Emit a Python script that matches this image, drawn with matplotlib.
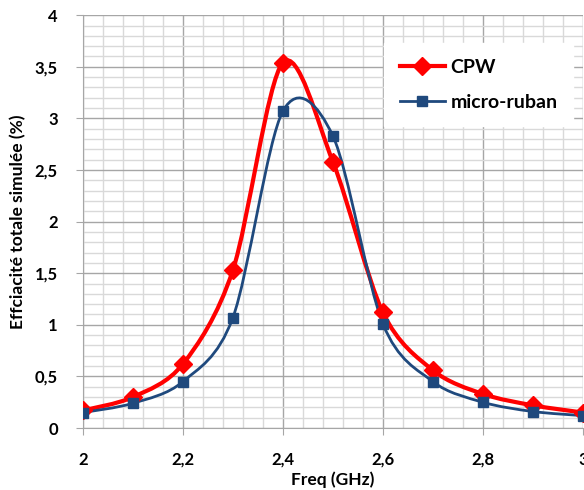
import numpy as np
import matplotlib.pyplot as plt
from matplotlib.path import Path
from matplotlib.patches import PathPatch
from matplotlib.lines import Line2D
from matplotlib.ticker import MultipleLocator, FuncFormatter

freq = [2.0, 2.1, 2.2, 2.3, 2.4, 2.5, 2.6, 2.7, 2.8, 2.9, 3.0]
cpw = [0.17, 0.30, 0.62, 1.53, 3.54, 2.58, 1.12, 0.56, 0.33, 0.22, 0.15]
micro_ruban = [0.15, 0.24, 0.45, 1.07, 3.07, 2.83, 1.01, 0.45, 0.25, 0.16, 0.12]

RED = "#FF0000"
BLUE = "#1F497D"

plt.rcParams['font.family'] = ['Lato', 'DejaVu Sans']
plt.rcParams['font.weight'] = 'bold'


def smooth_path(x, y):
    # Excel-style smoothed line: Bezier segments through the points
    p = np.column_stack([x, y])
    n = len(p)
    verts = [p[0]]
    codes = [Path.MOVETO]
    for i in range(n - 1):
        p0 = p[i - 1] if i > 0 else p[i]
        p3 = p[i + 2] if i + 2 < n else p[i + 1]
        c1 = p[i] + (p[i + 1] - p0) / 6.5
        c2 = p[i + 1] - (p3 - p[i]) / 6.5
        verts += [c1, c2, p[i + 1]]
        codes += [Path.CURVE4] * 3
    return Path(verts, codes)


fig = plt.figure(figsize=(5.84, 4.9), dpi=100)
ax = fig.add_axes([0.142, 0.1265, 0.856, 0.8425])

for ys, col, lw, mk, ms in [(cpw, RED, 3.0, 'D', 9.5), (micro_ruban, BLUE, 2.0, 's', 7.5)]:
    ax.add_patch(PathPatch(smooth_path(freq, ys), facecolor='none', edgecolor=col, lw=lw,
                           capstyle='round', joinstyle='round', zorder=3))
    ax.plot(freq, ys, linestyle='none', marker=mk, color=col, markersize=ms, zorder=4)

ax.set_xlim(2, 3)
ax.set_ylim(0, 4)
ax.xaxis.set_major_locator(MultipleLocator(0.2))
ax.xaxis.set_minor_locator(MultipleLocator(0.04))
ax.yaxis.set_major_locator(MultipleLocator(0.5))
ax.yaxis.set_minor_locator(MultipleLocator(0.1))
fmt = FuncFormatter(lambda v, pos: ('%g' % round(v, 2)).replace('.', ','))
ax.xaxis.set_major_formatter(fmt)
ax.yaxis.set_major_formatter(fmt)

ax.grid(which='major', color='#A6A6A6', lw=1.0, zorder=0)
ax.grid(which='minor', color='#D9D9D9', lw=1.0, zorder=0)
ax.set_axisbelow(True)
for s in ['top', 'right']:
    ax.spines[s].set_visible(False)
for s in ['left', 'bottom']:
    ax.spines[s].set_color('#A6A6A6')
ax.tick_params(which='major', length=5, color='#A6A6A6', labelsize=12)
ax.tick_params(axis='x', pad=12)
ax.tick_params(axis='y', pad=13)
ax.tick_params(which='minor', length=0)

ax.set_xlabel('Freq (GHz)', fontsize=12.5, fontweight='bold', labelpad=3)
ax.set_ylabel('Effciacité totale simulée (%)', fontsize=12.5, fontweight='bold', labelpad=6)

handles = [Line2D([], [], color=RED, lw=3, marker='D', markersize=9.5),
           Line2D([], [], color=BLUE, lw=2.0, marker='s', markersize=7.5)]
leg = ax.legend(handles, ['CPW', 'micro-ruban'], loc='upper right', bbox_to_anchor=(1.0, 0.955),
                frameon=True, fancybox=False, framealpha=1, edgecolor='white',
                prop={'size': 14, 'weight': 'bold'}, handlelength=2.3, handletextpad=0.3,
                labelspacing=0.9, borderpad=0.8)
leg.set_zorder(5)

fig.savefig('out.png', dpi=100)
